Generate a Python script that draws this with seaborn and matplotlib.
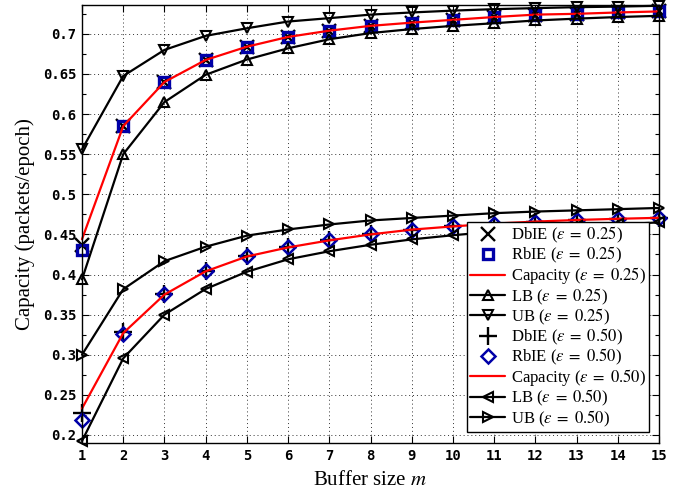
import matplotlib
matplotlib.use("Agg")
import matplotlib.pyplot as plt
import seaborn as sns
from matplotlib.ticker import MultipleLocator, FixedLocator, FuncFormatter

# Buffer sizes on the horizontal axis
buffer_size = list(range(1, 16))

# Erasure probability 0.25
ub_025 = [0.556, 0.6475, 0.680, 0.6975, 0.707, 0.7154, 0.7196, 0.724, 0.7267,
          0.729, 0.7308, 0.7321, 0.7333, 0.734, 0.735]
cap_025 = [0.444, 0.585, 0.640, 0.6675, 0.684, 0.6962, 0.704, 0.710, 0.714,
           0.7175, 0.721, 0.724, 0.725, 0.7267, 0.728]
lb_025 = [0.394, 0.550, 0.615, 0.649, 0.668, 0.682, 0.6933, 0.701, 0.706,
          0.710, 0.7133, 0.7167, 0.719, 0.721, 0.7225]
dbie_025 = [0.437, 0.585, 0.640, 0.6675, 0.684, 0.6962, 0.704, 0.710, 0.714,
            0.7175, 0.721, 0.724, 0.725, 0.7267, 0.728]
rbie_025 = [0.431, 0.585, 0.640, 0.6675, 0.684, 0.6962, 0.704, 0.710, 0.714,
            0.7175, 0.721, 0.724, 0.725, 0.7267, 0.728]

# Erasure probability 0.50
ub_050 = [0.300, 0.3817, 0.4167, 0.4347, 0.4485, 0.4562, 0.4624, 0.4674, 0.4705,
          0.4735, 0.4765, 0.4785, 0.480, 0.4815, 0.483]
cap_050 = [0.233, 0.327, 0.375, 0.404, 0.4225, 0.4338, 0.4426, 0.450, 0.456,
           0.460, 0.4635, 0.466, 0.468, 0.4695, 0.4707]
lb_050 = [0.1925, 0.2955, 0.350, 0.382, 0.4035, 0.419, 0.429, 0.4371, 0.4438,
          0.449, 0.4535, 0.457, 0.460, 0.4625, 0.465]
dbie_050 = [0.227, 0.328, 0.3756, 0.404, 0.4225, 0.4338, 0.4426, 0.450, 0.456,
            0.460, 0.4635, 0.466, 0.468, 0.4695, 0.4707]
rbie_050 = [0.219, 0.3255, 0.376, 0.404, 0.4225, 0.4338, 0.4426, 0.450, 0.456,
            0.460, 0.4635, 0.466, 0.468, 0.4695, 0.4707]

y_ticks = [0.2, 0.25, 0.3, 0.35, 0.4, 0.45, 0.5, 0.55, 0.6, 0.65, 0.7]

sns.set_theme(style="ticks")
plt.rcParams["font.family"] = ["Liberation Serif", "DejaVu Serif"]
plt.rcParams["mathtext.fontset"] = "stix"

fig = plt.figure(figsize=(6.91, 4.93), dpi=100)
ax = fig.add_axes([82 / 691, 50 / 493, 577 / 691, 438 / 493])

blue = "#0000a8"
black_line = dict(color="black", linewidth=1.6, markersize=7.5,
                  markerfacecolor="none", markeredgecolor="black",
                  markeredgewidth=1.5)
red_line = dict(color="#ff0000", linewidth=1.6, marker="")

series = [
    (dbie_025, r"DbIE ($\varepsilon\;=\;0.25$)",
     dict(color="black", linestyle="none", marker="x", markersize=10,
          markeredgecolor="black", markeredgewidth=1.7)),
    (rbie_025, r"RbIE ($\varepsilon\;=\;0.25$)",
     dict(color=blue, linestyle="none", marker="s", markersize=7,
          markerfacecolor="none", markeredgecolor=blue, markeredgewidth=2.4)),
    (cap_025, r"Capacity ($\varepsilon\;=\;0.25$)", red_line),
    (lb_025, r"LB ($\varepsilon\;=\;0.25$)", dict(black_line, marker="^")),
    (ub_025, r"UB ($\varepsilon\;=\;0.25$)", dict(black_line, marker="v")),
    (dbie_050, r"DbIE ($\varepsilon\;=\;0.50$)",
     dict(color="black", linestyle="none", marker="+", markersize=13,
          markeredgecolor="black", markeredgewidth=1.7)),
    (rbie_050, r"RbIE ($\varepsilon\;=\;0.50$)",
     dict(color=blue, linestyle="none", marker="D", markersize=7.5,
          markerfacecolor="none", markeredgecolor=blue, markeredgewidth=1.8)),
    (cap_050, r"Capacity ($\varepsilon\;=\;0.50$)", red_line),
    (lb_050, r"LB ($\varepsilon\;=\;0.50$)", dict(black_line, marker="<")),
    (ub_050, r"UB ($\varepsilon\;=\;0.50$)", dict(black_line, marker=">")),
]

for values, label, style in series:
    sns.lineplot(x=buffer_size, y=values, ax=ax, label=label,
                 clip_on=False, **style)

ax.set_xlim(1, 15)
ax.set_ylim(0.19, 0.736)
ax.xaxis.set_major_locator(FixedLocator(buffer_size))
ax.yaxis.set_major_locator(FixedLocator(y_ticks))
ax.yaxis.set_minor_locator(MultipleLocator(0.025))
ax.yaxis.set_major_formatter(FuncFormatter(lambda v, p: f"{v:g}"))

ax.grid(True, which="major", linestyle=(0, (1, 3)), color="#333333",
        linewidth=0.7)
ax.tick_params(which="both", direction="in", top=True, right=True,
               colors="black", width=0.8)
ax.tick_params(which="major", length=5, pad=4)
ax.tick_params(which="minor", length=3)
for lab in ax.get_xticklabels() + ax.get_yticklabels():
    lab.set_family("DejaVu Sans Mono")
    lab.set_weight("bold")
    lab.set_fontsize(10)
for sp in ax.spines.values():
    sp.set_color("black")
    sp.set_linewidth(1.0)

ax.set_xlabel(r"Buffer size $m$", fontsize=15, color="black", labelpad=6)
ax.set_ylabel("Capacity (packets/epoch)", fontsize=15, color="black",
              labelpad=6)

handles, labels = ax.get_legend_handles_labels()
leg = ax.legend(handles, labels, loc="lower right",
                bbox_to_anchor=(0.983, 0.025), borderaxespad=0,
                frameon=True, fancybox=False, edgecolor="black",
                framealpha=1,
                prop={"family": "Liberation Serif", "size": 12},
                labelspacing=0.0, handlelength=2.1, handletextpad=0.35,
                borderpad=0.2)
leg.get_frame().set_linewidth(1.0)
for txt in leg.get_texts():
    txt.set_color("black")

fig.savefig("out.png", dpi=100)
